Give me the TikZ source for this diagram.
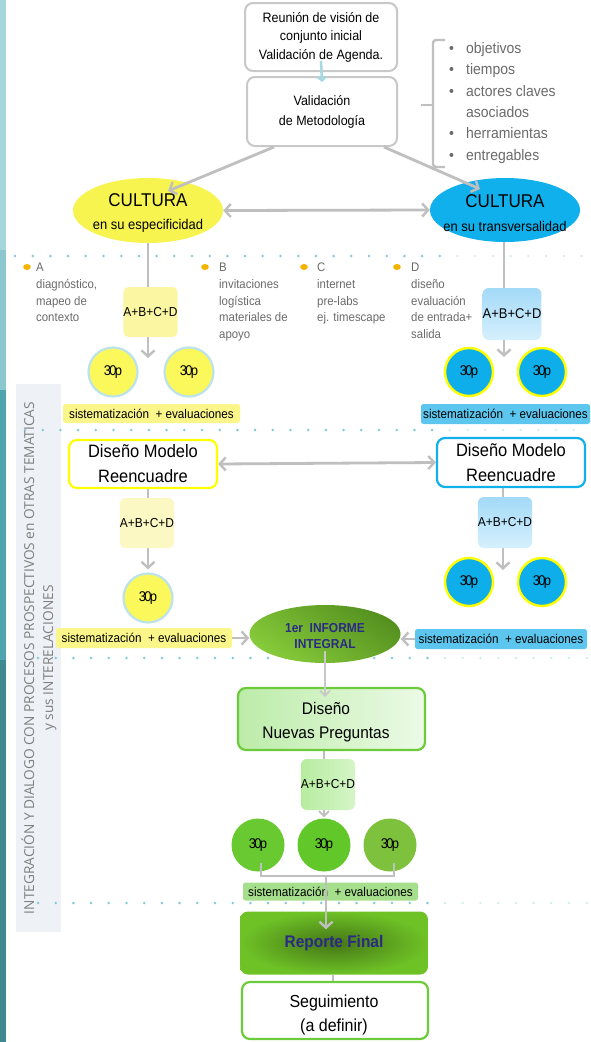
\documentclass[tikz,border=0pt]{standalone}
\usepackage{fontspec}
\setmainfont{Liberation Sans}[FakeStretch=0.92]
\newfontfamily\sidefont{Open Sans}
\usetikzlibrary{arrows.meta,shapes.geometric}
\definecolor{agray}{HTML}{BFBFBF}
\definecolor{bgray}{HTML}{C8C8C8}
\definecolor{txtgray}{HTML}{6B6B6B}
\definecolor{elly}{HTML}{F7F450}
\definecolor{ellb}{HTML}{10B0EC}
\definecolor{bandy}{HTML}{FBF68A}
\definecolor{bandb}{HTML}{5CC6EE}
\definecolor{bandg}{HTML}{A6DF8C}
\definecolor{circy}{HTML}{FAF85A}
\definecolor{circyb}{HTML}{BDE3EA}
\definecolor{circb}{HTML}{0EAEEA}
\definecolor{ybord}{HTML}{FFFF00}
\definecolor{gborder}{HTML}{6CCB3A}
\definecolor{navy}{HTML}{2A2A85}
\definecolor{dotd}{HTML}{7FCCD6}
\definecolor{dotl}{HTML}{D2EEF2}
\definecolor{orng}{HTML}{F5B301}
\definecolor{side}{HTML}{EEF1F6}
\definecolor{sidetxt}{HTML}{7F7F7F}
\definecolor{ltblue}{HTML}{A8D8E0}
\definecolor{abyel}{HTML}{FBF6A2}
\definecolor{abyel2}{HTML}{FCF8C4}
\definecolor{abbl1}{HTML}{A3DAF8}
\definecolor{abbl2}{HTML}{D6F0FD}
\definecolor{gc1}{HTML}{68CA30}
\definecolor{gc2}{HTML}{62C82A}
\definecolor{gc3}{HTML}{7EC13C}
\definecolor{strip1}{HTML}{A5D6DC}
\definecolor{strip2}{HTML}{8CC7CF}
\definecolor{strip3}{HTML}{4FA5AE}
\definecolor{strip4}{HTML}{3F8A90}
\definecolor{infdark}{HTML}{55901F}
\definecolor{inflight}{HTML}{86CB3A}
\definecolor{rfdark}{HTML}{457516}
\definecolor{rflight}{HTML}{6EC226}
\definecolor{dnpa}{HTML}{BCECA9}
\definecolor{dnpb}{HTML}{ECFAE6}
\definecolor{abga}{HTML}{B6EC9F}
\definecolor{abgb}{HTML}{D6F5C8}
\newcommand\thp{3\kern-1.7pt0\kern-1.7pt p}
\pgfdeclarelayer{back}
\pgfdeclarelayer{bg}
\pgfdeclarelayer{front}
\pgfsetlayers{back,bg,main,front}
\begin{document}
\begin{tikzpicture}[x=1pt,y=-1pt,
  >={Straight Barb[length=6pt,width=13pt,line width=2.4pt]},
  conn/.style={draw=agray,line width=2.8pt},
  thinconn/.style={draw=agray,line width=1.6pt},
  rbox/.style={draw=bgray,line width=2pt,rounded corners=8pt,fill=white,inner sep=0,align=center,font=\fontsize{13.6}{18.5}\selectfont},
  abcd/.style={rounded corners=6pt,inner sep=0,font=\fontsize{13}{15}\selectfont},
  tpc/.style={circle,inner sep=0,minimum size=51pt,font=\fontsize{14.1}{16}\selectfont},
  band/.style={rounded corners=2.5pt,inner sep=0,minimum height=19pt,font=\fontsize{12.7}{14}\selectfont},
  bigbox/.style={rounded corners=8pt,line width=2.2pt,fill=white,inner sep=0,align=center},
  bul/.style={anchor=north west,inner sep=0,align=left,text=txtgray,font=\fontsize{12.4}{16.7}\selectfont},
  elltxt/.style={align=center,inner sep=0,font=\fontsize{14.1}{23.5}\selectfont},
  plaintxt/.style={align=center,inner sep=0},
]
\useasboundingbox (0,0) rectangle (590,1042);
\begin{pgfonlayer}{back}
\fill[white] (0,0) rectangle (590,1042);
\fill[strip1] (0,0) rectangle (6,250);
\fill[strip2] (0,250) rectangle (6,390);
\fill[strip3] (0,390) rectangle (6,660);
\fill[strip4] (0,660) rectangle (6,1042);
\fill[side] (16,384) rectangle (61,932);
\foreach \xx in {15,32.7,...,440} \fill[dotd] (\xx,256) circle (1.4);
\foreach \xx in {457.5,475.2,...,590} \fill[dotl] (\xx,256) circle (1.4);
\foreach \xx in {25,42.7,...,440} \fill[dotd] (\xx,430) circle (1.4);
\foreach \xx in {449.8,467.5,...,590} \fill[dotl] (\xx,430) circle (1.4);
\foreach \xx in {38,55.7,...,440} \fill[dotd] (\xx,658) circle (1.4);
\foreach \xx in {445.1,462.8,...,590} \fill[dotl] (\xx,658) circle (1.4);
\foreach \xx in {38,55.7,...,440} \fill[dotd] (\xx,903) circle (1.4);
\foreach \xx in {445.1,462.8,...,590} \fill[dotl] (\xx,903) circle (1.4);
\end{pgfonlayer}

% sidebar text
\node[rotate=90,align=center,text=sidetxt,font=\sidefont\fontsize{13.7}{19}\selectfont,inner sep=0] (sidet) at (39,658)
  {INTEGRACIÓN Y DIALOGO CON PROCESOS PROSPECTIVOS en OTRAS TEMATICAS\\y sus INTERELACIONES};

% top boxes
\node[rbox,minimum width=152pt,minimum height=68pt] (b1) at (321,37) {Reunión de visión de\\conjunto inicial\\Validación de Agenda.};
\node[rbox,minimum width=150pt,minimum height=69pt,font=\fontsize{13.6}{20}\selectfont] (b2) at (322,111.5) {Validación\\de Metodología};

% list
\node[anchor=north west,inner sep=0,align=left,text=txtgray,font=\fontsize{15.2}{21.4}\selectfont] (lst) at (449,42)
  {\makebox[17pt][l]{•}objetivos\\\makebox[17pt][l]{•}tiempos\\\makebox[17pt][l]{•}actores claves\\\hspace*{17pt}asociados\\\makebox[17pt][l]{•}herramientas\\\makebox[17pt][l]{•}entregables};
\draw[agray,line width=2.4pt,rounded corners=3pt] (445,40) -- (433,40) -- (433,167) -- (445,167);
\draw[agray,line width=2.4pt] (433,105) -- (421,105);

% ellipses
\node[ellipse,fill=elly,minimum width=150pt,minimum height=65pt,inner sep=0] (ey) at (148,210.5) {};
\node[elltxt] (eyt) at (148,213) {{\fontsize{18.5}{21}\selectfont CULTURA}\\en su especificidad};
\node[ellipse,fill=ellb,minimum width=150pt,minimum height=64pt,inner sep=0] (eb) at (505,210) {};
\node[elltxt] (ebt) at (505,213) {{\fontsize{18.5}{21}\selectfont CULTURA}\\en su transversalidad};

% bullets A-D
\fill[orng] (27,267) ellipse (3.8 and 3);
\fill[orng] (205,267) ellipse (3.8 and 3);
\fill[orng] (304,267) ellipse (3.8 and 3);
\fill[orng] (397,267) ellipse (3.8 and 3);
\node[bul] (ta) at (36,263) {A\\diagnóstico,\\mapeo de\\contexto};
\node[bul] (tb) at (219,263) {B\\invitaciones\\logística\\materiales de\\apoyo};
\node[bul] (tc) at (317,263) {C\\internet\\pre-labs\\ej. timescape};
\node[bul] (td) at (411,263) {D\\diseño\\evaluación\\de entrada+\\salida};

% first row
\node[abcd,fill=abyel,minimum width=51pt,minimum height=50pt] (ab1) at (150.5,312) {A+B+C+D};
\node[abcd,top color=abbl1,bottom color=abbl2,minimum width=52pt,minimum height=52pt,font=\fontsize{14.1}{16}\selectfont] (ab2) at (512,314) {A+B+C+D};
\node[tpc,fill=circy,draw=circyb,line width=2.2pt,minimum size=49pt] (cy1) at (113,372) {\thp};
\node[tpc,fill=circy,draw=circyb,line width=2.2pt,minimum size=49pt] (cy2) at (189,372) {\thp};
\node[tpc,fill=circb,draw=ybord,line width=2.4pt,minimum size=48pt] (cb1) at (469,372) {\thp};
\node[tpc,fill=circb,draw=ybord,line width=2.4pt,minimum size=48pt] (cb2) at (542,372) {\thp};
\node[band,fill=bandy,minimum width=177pt] (sy1) at (151.5,413.5) {sistematización~ + evaluaciones};
\node[band,fill=bandb,minimum width=169pt,minimum height=20pt] (sb1) at (505.5,414) {sistematización~ + evaluaciones};

% second row
\node[bigbox,draw=ybord,minimum width=148pt,minimum height=48pt,font=\fontsize{17.9}{25}\selectfont] (dmy) at (143,464) {Diseño Modelo\\Reencuadre};
\node[bigbox,draw=ellb,minimum width=148pt,minimum height=49pt,font=\fontsize{17.9}{25}\selectfont] (dmb) at (511,462.5) {Diseño Modelo\\Reencuadre};
\node[abcd,fill=abyel2,minimum width=50pt,minimum height=50pt] (ab3) at (147,523) {A+B+C+D};
\node[abcd,top color=abbl1,bottom color=abbl2,minimum width=54pt,minimum height=51pt] (ab4) at (505,522.5) {A+B+C+D};
\node[tpc,fill=circy,draw=circyb,line width=2.2pt,minimum size=49pt] (cy3) at (148,598) {\thp};
\node[tpc,fill=circb,draw=ybord,line width=2.4pt,minimum size=48pt] (cb3) at (469,582) {\thp};
\node[tpc,fill=circb,draw=ybord,line width=2.4pt,minimum size=48pt] (cb4) at (542,582) {\thp};
\node[band,fill=bandy,minimum width=176pt,minimum height=20pt] (sy2) at (144,638) {sistematización~ + evaluaciones};
\node[band,fill=bandb,minimum width=172pt,minimum height=20pt] (sb2) at (501,639) {sistematización~ + evaluaciones};

% informe
\node[ellipse,minimum width=151pt,minimum height=58pt,inner sep=0,top color=infdark,bottom color=inflight,shading angle=-35] (inf) at (325,634) {};
\node[plaintxt,text=navy,font=\bfseries\fontsize{13}{16}\selectfont] (inft) at (325,636) {1er\ \ INFORME\\INTEGRAL};

% third part
\node[bigbox,draw=gborder,left color=dnpa,right color=dnpb,minimum width=187pt,minimum height=62pt] (dnp) at (331.5,719) {};
\node[plaintxt,font=\fontsize{16.8}{24}\selectfont] (dnpt) at (326,722) {Diseño\\Nuevas Preguntas};
\node[abcd,left color=abga,right color=abgb,minimum width=50pt,minimum height=51pt] (ab5) at (328,784.5) {A+B+C+D};
\node[tpc,fill=gc1,minimum size=53pt] (cg1) at (258,845) {\thp};
\node[tpc,fill=gc2,minimum size=53pt] (cg2) at (324,845) {\thp};
\node[tpc,fill=gc3,minimum size=53pt] (cg3) at (390,845) {\thp};
\node[band,fill=bandg,minimum width=175pt,minimum height=18pt] (sg) at (330.5,891.5) {sistematización~ + evaluaciones};
\node[rounded corners=8pt,inner sep=0,inner color=rfdark,outer color=rflight,minimum width=188pt,minimum height=63pt,text=navy,font=\bfseries\fontsize{16.8}{18}\selectfont] (rf) at (334,943) {Reporte Final};
\node[bigbox,draw=gborder,minimum width=186pt,minimum height=57pt] (seg) at (335,1010.5) {};
\node[plaintxt,font=\fontsize{17.4}{24}\selectfont] (segt) at (334,1015) {Seguimiento\\(a definir)};

\coordinate (yt0) at (168,191);
\coordinate (bt0) at (480,189);
\coordinate (yt1) at (148,358);
\coordinate (bt1) at (504,357);
\coordinate (bt2) at (503,570);
\coordinate (bj) at (326,876);

\begin{pgfonlayer}{bg}
\draw[conn,->] (ey.south) -- (yt1);
\draw[conn,->] ([xshift=-1pt]eb.south) -- (bt1);
\draw[conn,<->] (ey.east) -- (eb.west);
\draw[conn,<->] (dmy.east) -- (dmb.west);
\draw[conn,->] ([xshift=5pt]dmy.south) -- ([yshift=3pt]cy3.north);
\draw[conn,->] ([xshift=-8pt]dmb.south) -- (bt2);
\draw[conn,->] (sy2.east) -- (sy2.east -| inf.west);
\draw[conn,->] (sb2.west) -- (sb2.west -| inf.east);
\draw[thinconn,->,>={Straight Barb[length=5pt,width=10pt,line width=1.8pt]}] (dnp.south -| cg2.north) -- ([yshift=1pt]cg2.north);
\end{pgfonlayer}

\begin{pgfonlayer}{front}
\draw[ltblue,line width=2.6pt,-{Straight Barb[length=4pt,width=9pt,line width=2pt]}] ([yshift=11pt]b1.south) -- ([yshift=-6pt]b2.north);
\draw[conn,->] ([xshift=28pt]b2.south west) -- (yt0);
\draw[conn,->] ([xshift=-14pt]b2.south east) -- (bt0);
\draw[draw=bgray,line width=2pt,->,>={Straight Barb[length=5pt,width=10pt,line width=1.8pt]}] ([yshift=12pt]inf.south) -- ([yshift=-10pt]inf.south |- dnp.north);
\draw[thinconn] ([xshift=3pt,yshift=-18pt]cg1.center) |- (bj) -| ([xshift=4pt,yshift=-18pt]cg3.center);
\draw[conn,->,line width=2.4pt] (bj) -- ([yshift=-18pt]bj |- rf.north);
\draw[agray,line width=2pt] ([xshift=-1pt]rf.south) -- ([xshift=-2pt]seg.north);
\end{pgfonlayer}
\end{tikzpicture}
\end{document}
